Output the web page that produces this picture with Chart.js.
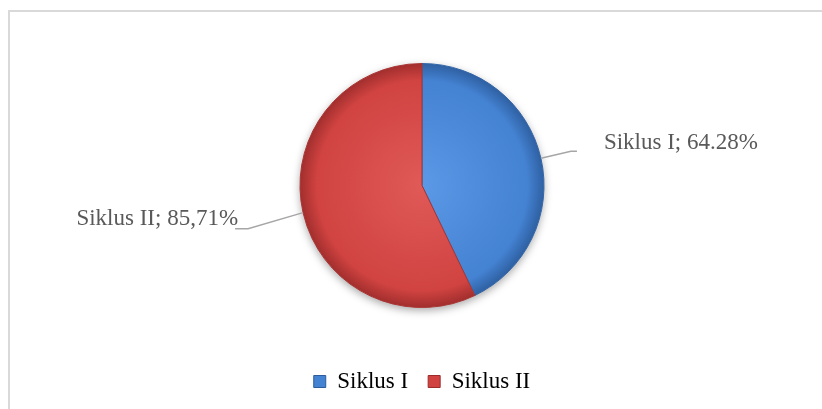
<!DOCTYPE html>
<html>
<head>
<meta charset="utf-8">
<script src="https://cdn.jsdelivr.net/npm/chart.js@4.4.0/dist/chart.umd.min.js"></script>
<style>
  html, body { margin: 0; padding: 0; background: #fff; }
  #wrap { position: relative; width: 822px; height: 409px; overflow: hidden; }
  #frame { position: absolute; left: 8px; top: 10px; width: 900px; height: 500px;
           border-left: 2px solid #d9d9d9; border-top: 2px solid #d9d9d9; }
  canvas { position: absolute; left: 0; top: 0; }
</style>
</head>
<body>
<div id="wrap">
  <div id="frame"></div>
  <canvas id="pieChart" width="822" height="409"></canvas>
</div>
<script>
// Data
const categories = ['Siklus I', 'Siklus II'];
const values = [64.28, 85.71];
const valueLabels = ['64.28%', '85,71%'];

const baseColors = [
    { light: '#5b98e6', mid: '#4482d2', dark: '#2c5c9c' },
    { light: '#e05a58', mid: '#d04341', dark: '#9c2c2b' }
];

const fontFamily = '"Liberation Serif", "DejaVu Serif", serif';

function sliceFill(context) {
    const chart = context.chart;
    const c = baseColors[context.dataIndex % baseColors.length];
    const area = chart.chartArea;
    if (!area) return c.mid;
    const cx = (area.left + area.right) / 2;
    const cy = (area.top + area.bottom) / 2;
    const g = chart.ctx.createRadialGradient(cx, cy, 0, cx, cy, 124);
    g.addColorStop(0, c.light);
    g.addColorStop(0.85, c.mid);
    g.addColorStop(1, c.dark);
    return g;
}

// soft shadow under the pie
const shadowPlugin = {
    id: 'shadow',
    beforeDatasetsDraw(chart) {
        const arc = chart.getDatasetMeta(0).data[0];
        if (!arc) return;
        const ctx = chart.ctx;
        ctx.save();
        ctx.shadowColor = 'rgba(0,0,0,0.35)';
        ctx.shadowBlur = 8;
        ctx.shadowOffsetY = 3;
        ctx.fillStyle = '#fff';
        ctx.beginPath();
        ctx.arc(arc.x, arc.y, arc.outerRadius, 0, Math.PI * 2);
        ctx.fill();
        ctx.restore();
    }
};

// outside labels with leader lines
const outLabels = {
    id: 'outLabels',
    afterDatasetsDraw(chart) {
        const ctx = chart.ctx;
        const meta = chart.getDatasetMeta(0);
        ctx.save();
        ctx.font = '23px ' + fontFamily;
        ctx.fillStyle = '#595959';
        ctx.strokeStyle = '#a6a6a6';
        ctx.lineWidth = 1.5;
        ctx.textBaseline = 'middle';
        meta.data.forEach((arc, i) => {
            const mid = (arc.startAngle + arc.endAngle) / 2;
            const ex = arc.x + Math.cos(mid) * arc.outerRadius;
            const ey = arc.y + Math.sin(mid) * arc.outerRadius;
            const right = Math.cos(mid) >= 0;
            const text = categories[i] + '; ' + valueLabels[i];
            let kx, ky, hx;
            if (right) {
                kx = ex + 30; ky = ey - 7; hx = kx + 6;
            } else {
                kx = ex - 55; ky = ey + 16; hx = kx - 13;
            }
            ctx.beginPath();
            ctx.moveTo(ex, ey);
            ctx.lineTo(kx, ky);
            ctx.lineTo(hx, ky);
            ctx.stroke();
            if (right) {
                ctx.textAlign = 'left';
                ctx.fillText(text, hx + 27, ky - 8);
            } else {
                ctx.textAlign = 'right';
                ctx.fillText(text, hx + 3, ky - 10);
            }
        });
        ctx.restore();
    }
};

const ctx = document.getElementById('pieChart').getContext('2d');
const pieChart = new Chart(ctx, {
    type: 'pie',
    data: {
        labels: categories,
        datasets: [{
            data: values,
            backgroundColor: sliceFill,
            borderColor: ['#3366a8', '#a83533'],
            borderWidth: 1,
            radius: 122
        }]
    },
    options: {
        responsive: false,
        animation: false,
        layout: { padding: { left: 22, top: 21, bottom: 6 } },
        plugins: {
            tooltip: { enabled: false },
            legend: {
                position: 'bottom',
                labels: {
                    font: { family: fontFamily, size: 23 },
                    color: '#595959',
                    boxWidth: 12,
                    boxHeight: 12,
                    padding: 20,
                    generateLabels(chart) {
                        return categories.map((name, i) => ({
                            text: name,
                            fillStyle: baseColors[i].mid,
                            strokeStyle: baseColors[i].dark,
                            lineWidth: 1,
                            index: i
                        }));
                    }
                }
            }
        }
    },
    plugins: [shadowPlugin, outLabels]
});
</script>
</body>
</html>
